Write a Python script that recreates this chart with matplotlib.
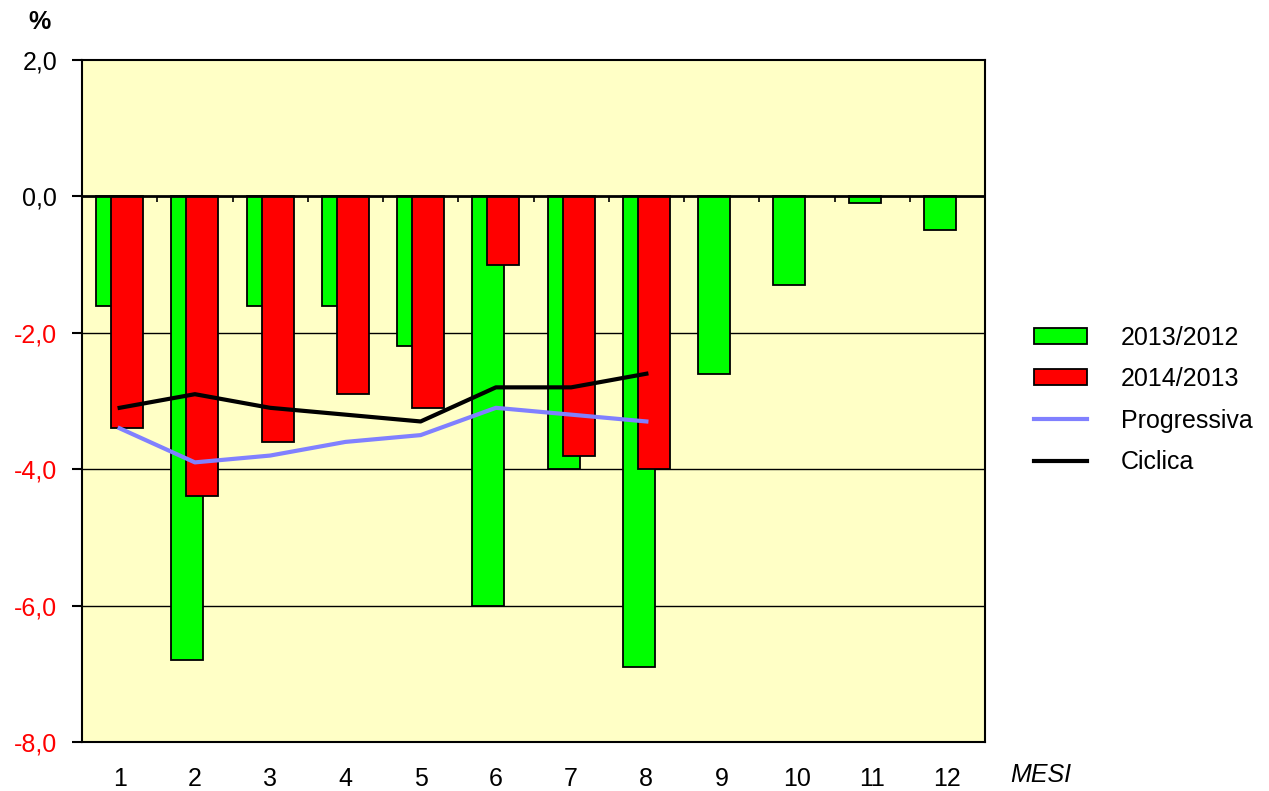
import numpy as np
import matplotlib.pyplot as plt

plt.rcParams['font.family'] = ['Liberation Sans', 'DejaVu Sans']

mesi = list(range(1, 13))
var_2013_2012 = [-1.6, -6.8, -1.6, -1.6, -2.2, -6.0, -4.0, -6.9, -2.6, -1.3, -0.1, -0.5]
var_2014_2013 = [-3.4, -4.4, -3.6, -2.9, -3.1, -1.0, -3.8, -4.0]
progressiva = [-3.4, -3.9, -3.8, -3.6, -3.5, -3.1, -3.2, -3.3]
ciclica = [-3.1, -2.9, -3.1, -3.2, -3.3, -2.8, -2.8, -2.6]
yticks = [2.0, 0.0, -2.0, -4.0, -6.0, -8.0]

fig = plt.figure(figsize=(12.69, 7.91), dpi=100)
ax = fig.add_axes([82 / 1269, 1 - 742 / 791, 903 / 1269, 682 / 791])
ax.set_facecolor('#FFFFC6')

x = np.array(mesi)
n2 = len(var_2014_2013)
w = 0.425
b1 = ax.bar(x - 0.1, var_2013_2012, w, color='#00FF00', edgecolor='black', lw=1.3,
            label='2013/2012', zorder=3)
b2 = ax.bar(x[:n2] + 0.1, var_2014_2013, w, color='#FF0000', edgecolor='black', lw=1.3,
            label='2014/2013', zorder=4)
l1, = ax.plot(x[:len(progressiva)], progressiva, color='#8080FF', lw=3,
              label='Progressiva', zorder=5)
l2, = ax.plot(x[:len(ciclica)], ciclica, color='black', lw=3, label='Ciclica', zorder=6)

# grid and zero axis
for g in [-2, -4, -6]:
    ax.axhline(g, color='black', lw=1.0, zorder=1)
ax.axhline(0, color='black', lw=2.0, zorder=7)
ax.vlines(np.arange(1.5, 12.5, 1), -0.08, 0, color='black', lw=1.2, zorder=7)

ax.set_xlim(0.5, 12.5)
ax.set_ylim(-8, 2)
for s in ax.spines.values():
    s.set_linewidth(1.5)

ax.set_yticks(yticks)
ax.set_yticklabels([f'{v:.1f}'.replace('.', ',') for v in yticks], fontsize=18)
for lab, v in zip(ax.get_yticklabels(), yticks):
    lab.set_color('black' if v >= 0 else '#FF0000')
ax.tick_params(axis='y', length=7, width=1.5, pad=11)

ax.set_xticks(mesi)
ax.set_xticklabels([str(m) for m in mesi], fontsize=18)
ax.tick_params(axis='x', length=0, pad=18)

fig.text(40 / 1269, 1 - 22 / 791, '%', fontsize=18, fontweight='bold',
         ha='center', va='center')
fig.text(1010 / 1269, 1 - 775 / 791, 'MESI', fontsize=18, style='italic',
         ha='left', va='center')

ax.legend(handles=[b1, b2, l1, l2], loc='center left',
          bbox_to_anchor=(1011 / 1269, 1 - 400 / 791),
          bbox_transform=fig.transFigure, frameon=False, fontsize=18,
          handlelength=2.15, handleheight=0.6, handletextpad=1.35,
          labelspacing=0.7)

fig.savefig('out.png', dpi=100)
